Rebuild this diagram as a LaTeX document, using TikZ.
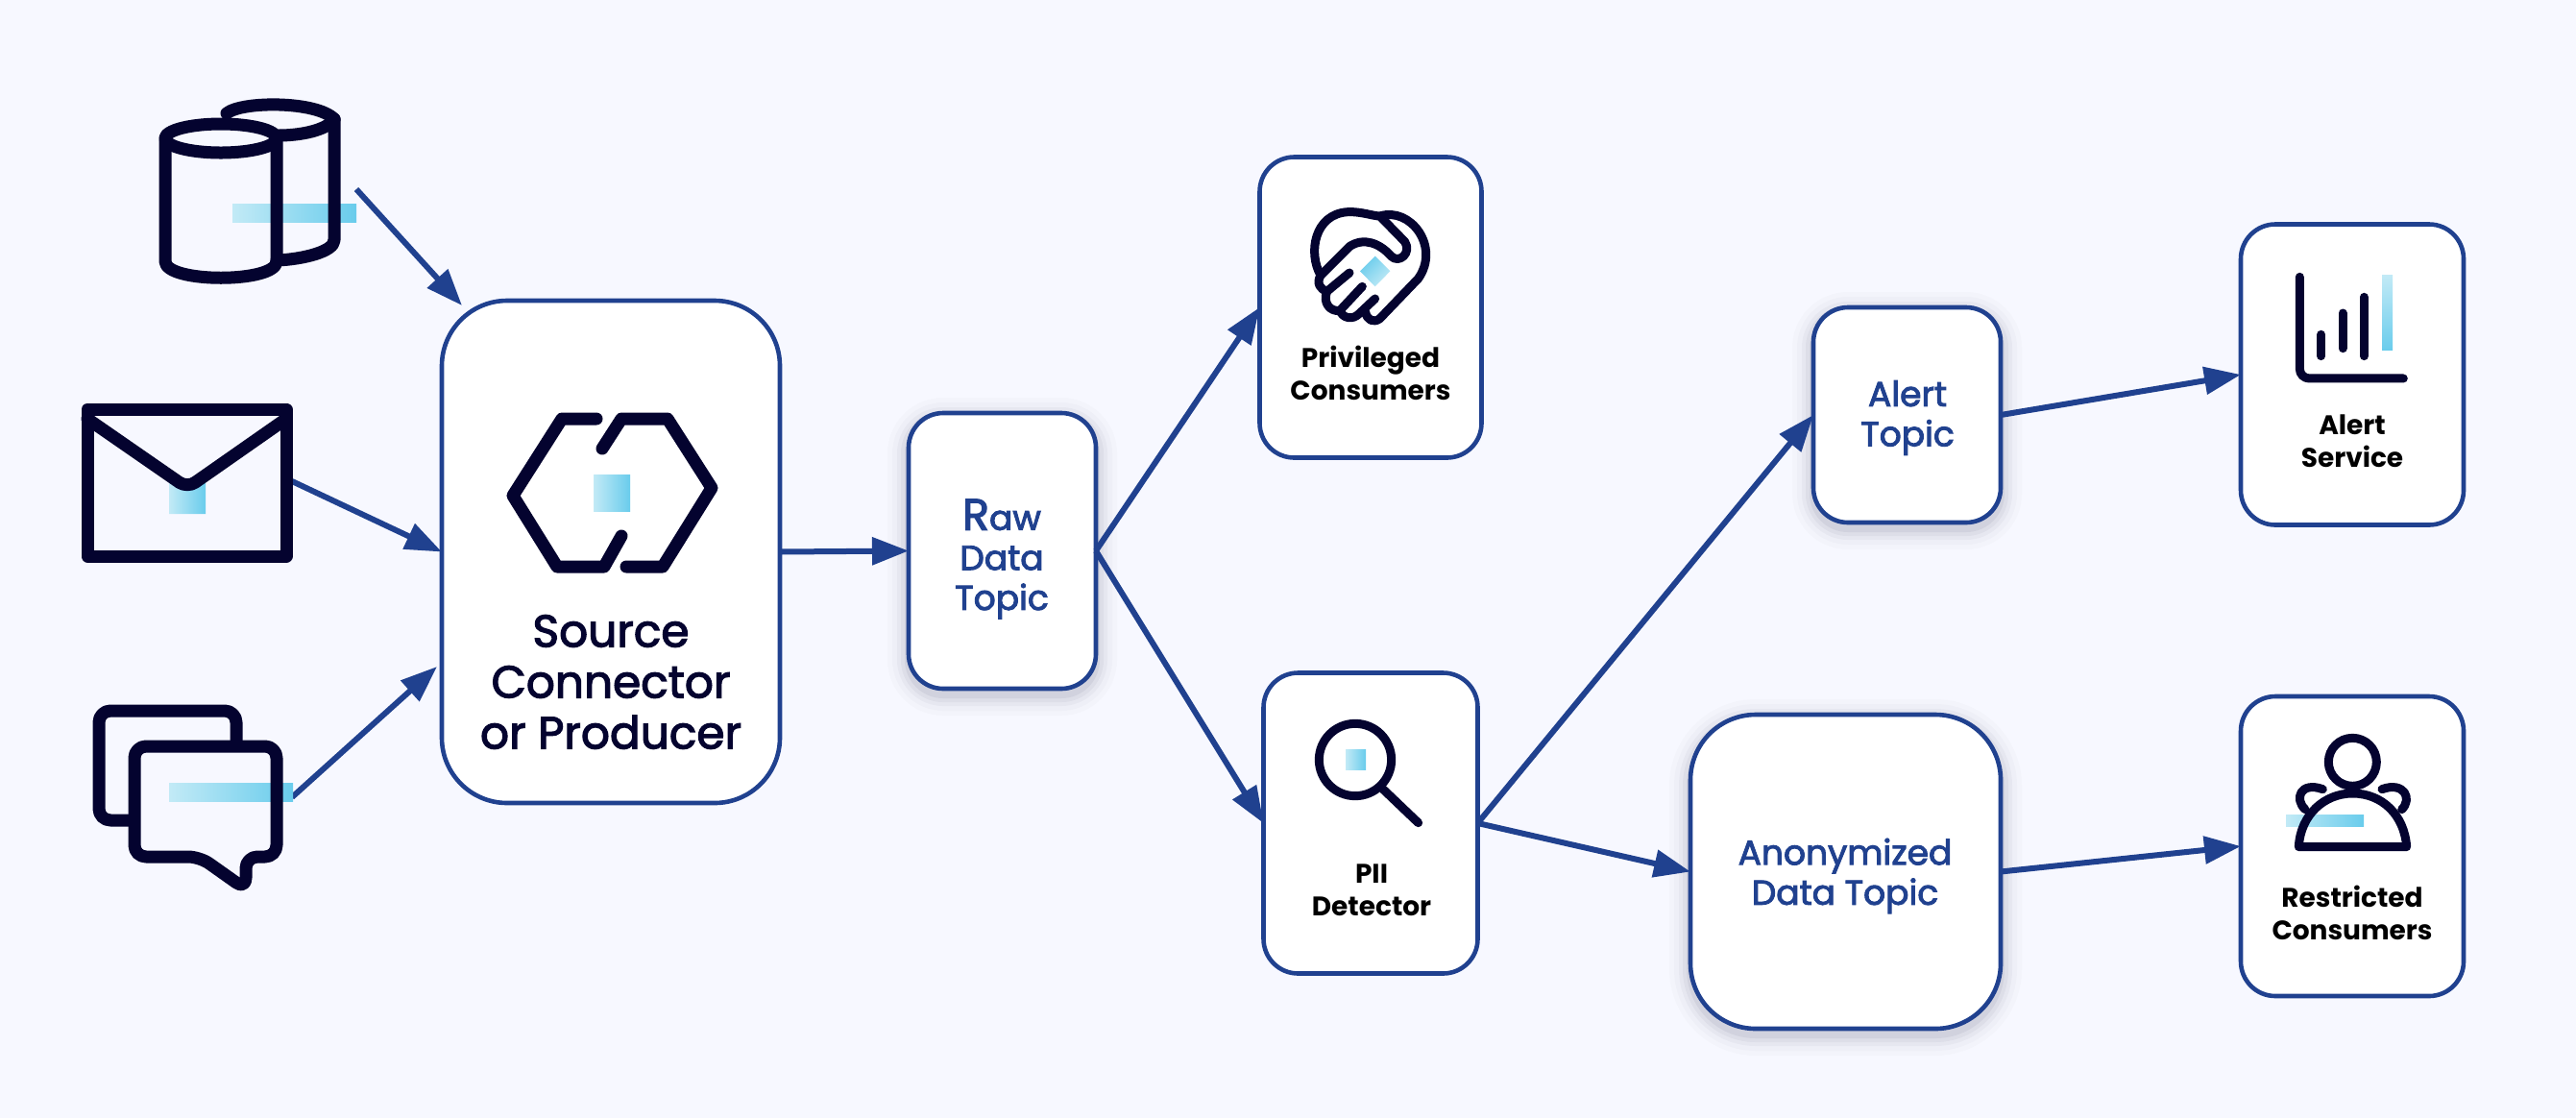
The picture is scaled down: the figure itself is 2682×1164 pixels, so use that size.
\documentclass[tikz,border=0pt]{standalone}
\usepackage{fontspec}
\setmainfont{Poppins}
\newfontfamily\medfont[FakeBold=2.6]{Poppins}
\usetikzlibrary{arrows.meta}
\definecolor{pagetint}{HTML}{F7F8FF}
\definecolor{flowblue}{HTML}{20418F}
\definecolor{inknavy}{HTML}{04032F}
\definecolor{glowlight}{HTML}{C2EAF6}
\definecolor{glowfull}{HTML}{69CCEC}

\begin{document}
\begin{tikzpicture}[
          x=0.5pt, y=-0.5pt,
          box/.style={draw=flowblue,fill=white,line width=2.3pt,rounded corners=18pt,inner sep=0pt,outer sep=0pt},
          softshadow/.style={
            preaction={draw=inknavy,opacity=.015,line width=22pt,transform canvas={yshift=-3pt}},
            preaction={draw=inknavy,opacity=.02,line width=17pt,transform canvas={yshift=-3pt}},
            preaction={draw=inknavy,opacity=.03,line width=12pt,transform canvas={yshift=-3pt}},
            preaction={draw=inknavy,opacity=.04,line width=8pt,transform canvas={yshift=-3pt}},
            preaction={draw=inknavy,opacity=.05,line width=4pt,transform canvas={yshift=-3pt}}},
          link/.style={draw=flowblue,line width=3pt,-{Triangle[length=19pt,width=14pt]}},
          icon/.style={draw=inknavy,line width=6.5pt,line cap=round,line join=round},
          fineicon/.style={draw=inknavy,line width=4.5pt,line cap=round,line join=round},
          glowbar/.style={left color=glowlight,right color=glowfull,draw=none},
          toplabel/.style={font=\medfont\fontsize{18}{20.8}\selectfont,text=flowblue,align=center,inner sep=0pt},
          boldlabel/.style={font=\bfseries\fontsize{14}{17}\selectfont,text=black,align=center,inner sep=0pt},
        ]
        \fill[pagetint] (0,0) rectangle (2682,1164);
        \useasboundingbox (0,0) rectangle (2682,1164);

        % boxes
        \node[box,rounded corners=34pt,minimum width=176pt,minimum height=261.5pt] (source) at (636,574.5) {};
        \node[box,softshadow,minimum width=97.5pt,minimum height=143.5pt] (raw) at (1043.5,573.5) {};
        \node[box,minimum width=115.5pt,minimum height=156.5pt] (privileged) at (1427,320) {};
        \node[box,minimum width=111.5pt,minimum height=156.5pt] (pii) at (1427,857) {};
        \node[box,softshadow,minimum width=97.5pt,minimum height=112pt] (alert) at (1985.5,432) {};
        \node[box,softshadow,rounded corners=34pt,minimum width=161.5pt,minimum height=163.5pt] (anon) at (1921.5,907.5) {};
        \node[box,minimum width=116pt,minimum height=156.5pt] (service) at (2449,390) {};
        \node[box,minimum width=116pt,minimum height=156pt] (restricted) at (2449,881) {};

        % free ends of the three inputs
        \coordinate (dbout) at (371,197);
        \coordinate (mailout) at (304,501);
        \coordinate (chatout) at (304,830);
        \coordinate (dbin) at (481,318);
        \coordinate (chatin) at (455,694);

        % connectors
        \draw[link] (dbout) -- (dbin);
        \draw[link] (mailout) -- (source.west);
        \draw[link] (chatout) -- (chatin);
        \draw[link] (source.east) -- (raw.west);
        \draw[link] (raw.east) -- (privileged.west);
        \draw[link] (raw.east) -- (pii.west);
        \draw[link] (pii.east) -- (alert.west);
        \draw[link] (pii.east) -- (anon.west);
        \draw[link] (alert.east) -- (service.west);
        \draw[link] (anon.east) -- (restricted.west);

        % cylinders
        \path[glowbar] (242,212) rectangle (371,231);
        \draw[icon] (236,118) .. controls (252,105) and (330,105) .. (348,124);
        \draw[icon] (348,124) .. controls (340,136) and (312,141) .. (290,141);
        \draw[icon] (348,124) -- (348,250) .. controls (348,262) and (315,270) .. (288,271);
        \draw[icon] (230,144) ellipse [x radius=58,y radius=15];
        \draw[icon] (172,144) -- (172,272) .. controls (172,295) and (288,295) .. (288,272) -- (288,144);

        % envelope
        \path[left color=glowlight,right color=glowfull] (176,495) -- (195,508) -- (214,495) -- (214,535) -- (176,535) -- cycle;
        \draw[icon] (91,426) rectangle (298,579);
        \draw[icon,rounded corners=5pt] (91,436) -- (195,508) -- (298,436);

        % chat bubbles
        \path[glowbar] (176,815) rectangle (305,834);
        \draw[icon,rounded corners=6pt] (246,772) -- (246,740) -- (103,740) -- (103,854) -- (134,854);
        \draw[icon,rounded corners=6pt] (140,777) -- (288,777) -- (288,892) -- (256,892) -- (256,926) -- (208,892) -- (140,892) -- cycle;

        % connector hexagon
        \path[glowbar] (618,494) rectangle (656,532);
        \draw[icon] (621,436) -- (585,436) -- (534,516) -- (580,590) -- (629,590) -- (647,558);
        \draw[icon] (627,467) -- (647,436) -- (695,436) -- (741,508) -- (690,590) -- (652,590);
        \node[font=\medfont\fontsize{23.5}{26.5}\selectfont,text=inknavy,align=center,inner sep=0pt] (sourcetext) at (636,710) {Source\\Connector\\or Producer};

        % labels
        \node[toplabel] (rawtext) at (1043,582) {{\fontsize{23}{20.8}\selectfont R}aw\\Data\\Topic};
        \node[toplabel] (alerttext) at (1986,435) {Alert\\Topic};
        \node[toplabel] (anontext) at (1921,912) {Anonymized\\Data Topic};
        \node[boldlabel] (privtext) at (1427,388) {Privileged\\Consumers};
        \node[boldlabel] (piitext) at (1428,927) {PII\\Detector};
        \node[boldlabel] (servicetext) at (2449,459) {Alert\\Service};
        \node[boldlabel] (restrictedtext) at (2449,950) {Restricted\\Consumers};

        % handshake
        \begin{scope}[shift={(1280,150)},scale=0.3333]
          \path[left color=glowfull,right color=glowlight,shading angle=45] (455,350) -- (502,397) -- (455,445) -- (408,397) -- cycle;
          \draw[fineicon] (285,410) .. controls (245,340) and (265,218) .. (370,212) .. controls (410,210) and (450,225) .. (470,225)
            .. controls (565,195) and (660,320) .. (590,420) -- (470,545) .. controls (450,560) and (430,550) .. (425,525);
          \draw[fineicon] (470,225) -- (548,305) .. controls (570,340) and (530,375) .. (505,350) .. controls (470,310) and (420,290) .. (375,320) -- (285,410)
            .. controls (270,435) and (285,455) .. (305,460) -- (375,402);
          \draw[fineicon] (305,460) .. controls (290,495) and (315,525) .. (345,520) -- (415,445);
          \draw[fineicon] (345,520) .. controls (355,545) and (385,550) .. (405,530) -- (455,483);
        \end{scope}

        % magnifier
        \begin{scope}[shift={(1280,690)},scale=0.3333]
          \path[glowbar] (363,272) rectangle (426,335);
          \draw[fineicon] (393,303) circle (113);
          \draw[fineicon] (480,395) -- (590,500);
        \end{scope}

        % bar chart
        \begin{scope}[shift={(2320,220)},scale=0.3333]
          \path[top color=glowlight,bottom color=glowfull] (480,200) rectangle (513,435);
          \draw[fineicon,rounded corners=5pt] (223,205) -- (223,522) -- (547,522);
          \draw[fineicon] (290,385) -- (290,452);
          \draw[fineicon] (357,318) -- (357,428);
          \draw[fineicon] (424,268) -- (424,452);
        \end{scope}

        % people
        \begin{scope}[shift={(2320,720)},scale=0.3333]
          \path[glowbar] (180,385) rectangle (423,420);
          \draw[fineicon] (388,220) circle (75);
          \draw[fineicon] (220,485) .. controls (225,385) and (300,318) .. (388,318) .. controls (480,318) and (550,385) .. (557,485) -- cycle;
          \draw[fineicon] (240,368) .. controls (205,335) and (225,280) .. (295,305);
          \draw[fineicon] (480,305) .. controls (550,280) and (575,335) .. (542,368);
        \end{scope}
      \end{tikzpicture}
\end{document}
